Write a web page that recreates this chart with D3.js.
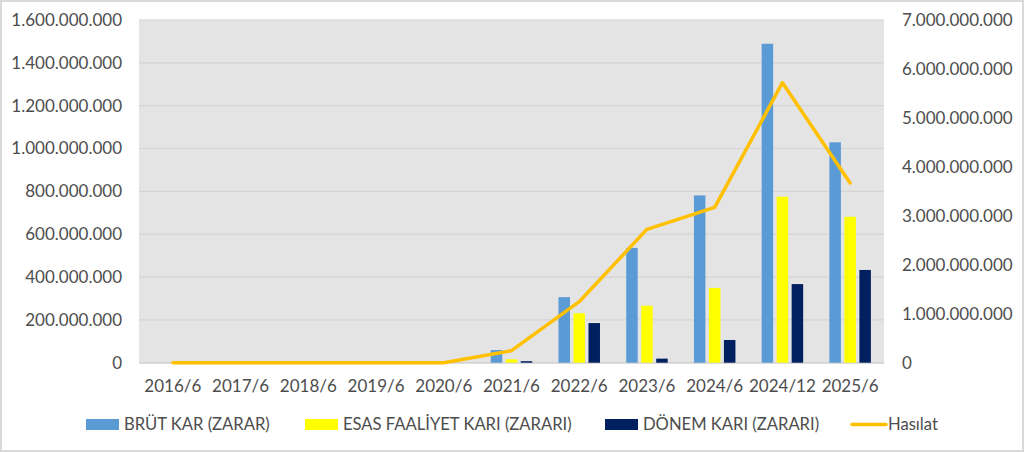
<!DOCTYPE html>
<html>
  <head>
    <meta charset="utf-8">
    <title>Kar / Hasılat</title>
    <script src="https://d3js.org/d3.v7.min.js"></script>
    <style>
      body { margin: 0; background: #fff; }
      text { font-family: Lato, "Liberation Sans", sans-serif; fill: #4d4d4d; }
    </style>
  </head>
  <body>
    <div id="chart"></div>
    <script>
      // Data
      const periods = ["2016/6", "2017/6", "2018/6", "2019/6", "2020/6", "2021/6", "2022/6", "2023/6", "2024/6", "2024/12", "2025/6"];
      const brutKar = [0, 0, 0, 0, 0, 59000000, 306000000, 536000000, 781000000, 1489000000, 1029000000];
      const esasFaaliyet = [0, 0, 0, 0, 0, 16000000, 231000000, 266000000, 349000000, 775000000, 681000000];
      const donemKari = [0, 0, 0, 0, 0, 7000000, 185000000, 19000000, 106000000, 367000000, 433000000];
      const hasilat = [0, 0, 0, 0, 0, 245000000, 1246000000, 2725000000, 3174000000, 5720000000, 3670000000];
      const leftTicks = [0, 200000000, 400000000, 600000000, 800000000, 1000000000, 1200000000, 1400000000, 1600000000];
      const rightTicks = [0, 1000000000, 2000000000, 3000000000, 4000000000, 5000000000, 6000000000, 7000000000];

      const seriesNames = ["BRÜT KAR (ZARAR)", "ESAS FAALİYET KARI (ZARARI)", "DÖNEM KARI (ZARARI)"];
      const seriesValues = [brutKar, esasFaaliyet, donemKari];
      const seriesColors = ["#5b9bd5", "#ffff00", "#002060"];
      const lineName = "Hasılat";
      const lineColor = "#ffc000";

      const width = 1024;
      const height = 452;
      const plot = { left: 139, right: 884, top: 20, bottom: 362.7 };
      const fontSize = 17;

      const svg = d3.select("#chart")
        .append("svg")
        .attr("width", width)
        .attr("height", height);

      // outer frame
      svg.append("rect")
        .attr("x", 1).attr("y", 1)
        .attr("width", width - 2).attr("height", height - 2)
        .attr("fill", "#fff")
        .attr("stroke", "#d9d9d9")
        .attr("stroke-width", 2);

      // scales
      const x = d3.scaleBand()
        .domain(periods)
        .range([plot.left, plot.right])
        .padding(0);

      const xInner = d3.scaleBand()
        .domain(d3.range(seriesNames.length))
        .range([-20.75, 20.75])
        .paddingInner(0.233)
        .paddingOuter(0);

      const yLeft = d3.scaleLinear()
        .domain([0, 1600000000])
        .range([plot.bottom, plot.top]);

      const yRight = d3.scaleLinear()
        .domain([0, 7000000000])
        .range([plot.bottom, plot.top]);

      const fmt = v => d3.format(",")(v).replace(/,/g, ".");

      // plot background
      svg.append("rect")
        .attr("x", plot.left).attr("y", plot.top)
        .attr("width", plot.right - plot.left)
        .attr("height", plot.bottom - plot.top)
        .attr("fill", "#e4e4e4");

      // gridlines
      svg.append("g")
        .selectAll("line")
        .data(leftTicks)
        .join("line")
        .attr("x1", plot.left).attr("x2", plot.right)
        .attr("y1", d => yLeft(d)).attr("y2", d => yLeft(d))
        .attr("stroke", "#d4d4d4")
        .attr("stroke-width", 1.2);

      function styleAxisText(g) {
        g.selectAll("text")
          .attr("font-size", fontSize)
          .attr("fill", "#4d4d4d")
          .attr("font-family", "Lato, Liberation Sans, sans-serif");
      }

      // left axis
      const leftAxis = svg.append("g")
        .attr("transform", `translate(${plot.left - 17},0)`)
        .call(d3.axisLeft(yLeft).tickValues(leftTicks).tickFormat(fmt).tickSize(0).tickPadding(0));
      leftAxis.select(".domain").remove();
      styleAxisText(leftAxis);

      // right axis
      const rightAxis = svg.append("g")
        .attr("transform", `translate(${plot.right + 18},0)`)
        .call(d3.axisRight(yRight).tickValues(rightTicks).tickFormat(fmt).tickSize(0).tickPadding(0));
      rightAxis.select(".domain").remove();
      styleAxisText(rightAxis);

      // bottom axis
      const bottomAxis = svg.append("g")
        .attr("transform", `translate(0,${plot.bottom})`)
        .call(d3.axisBottom(x).tickSize(0).tickPadding(17));
      bottomAxis.select(".domain")
        .attr("stroke", "#d4d4d4")
        .attr("stroke-width", 1.2);
      styleAxisText(bottomAxis);

      // bars
      seriesValues.forEach(function(vals, si) {
        svg.append("g")
          .selectAll("rect")
          .data(vals.map((v, i) => ({ period: periods[i], value: v })))
          .join("rect")
          .attr("x", d => x(d.period) + x.bandwidth() / 2 + xInner(si))
          .attr("y", d => yLeft(d.value))
          .attr("width", xInner.bandwidth())
          .attr("height", d => yLeft(0) - yLeft(d.value))
          .attr("fill", seriesColors[si]);
      });

      // revenue line (right axis)
      const line = d3.line()
        .x((d, i) => x(periods[i]) + x.bandwidth() / 2)
        .y(d => yRight(d));

      svg.append("path")
        .datum(hasilat)
        .attr("d", line)
        .attr("fill", "none")
        .attr("stroke", lineColor)
        .attr("stroke-width", 3.5)
        .attr("stroke-linejoin", "round")
        .attr("stroke-linecap", "round");

      // legend
      const legendY = 424.5;
      const legendX = [86, 305, 605];
      const legend = svg.append("g");
      seriesNames.forEach(function(name, i) {
        legend.append("rect")
          .attr("x", legendX[i]).attr("y", legendY - 5.5)
          .attr("width", 33).attr("height", 11)
          .attr("fill", seriesColors[i]);
        legend.append("text")
          .attr("x", legendX[i] + 38).attr("y", legendY)
          .attr("dy", "0.35em")
          .attr("font-size", 16.6)
          .text(name);
      });
      legend.append("line")
        .attr("x1", 852).attr("x2", 886)
        .attr("y1", legendY).attr("y2", legendY)
        .attr("stroke", lineColor)
        .attr("stroke-width", 3.5)
        .attr("stroke-linecap", "round");
      legend.append("text")
        .attr("x", 888).attr("y", legendY)
        .attr("dy", "0.35em")
        .attr("font-size", 16.6)
        .text(lineName);
    </script>
  </body>
</html>
